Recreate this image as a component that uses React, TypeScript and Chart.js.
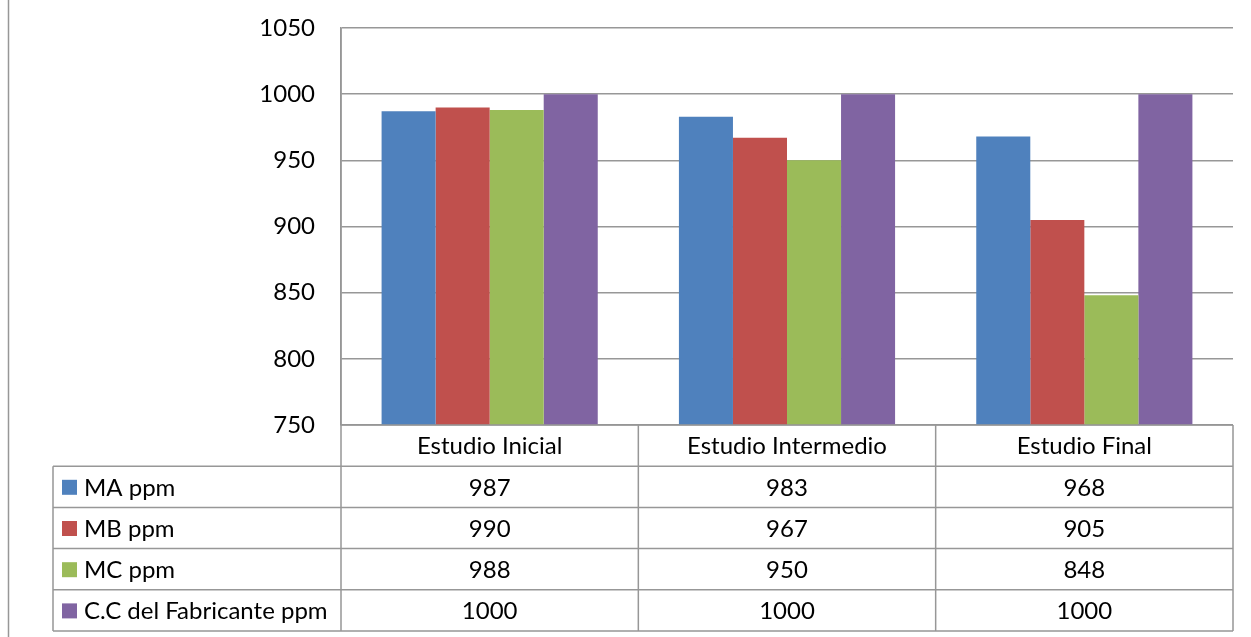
import React, { useEffect, useRef } from "react";
import { Chart, registerables } from "chart.js";

Chart.register(...registerables);

const categories = ["Estudio Inicial", "Estudio Intermedio", "Estudio Final"];
const seriesNames = ["MA ppm", "MB ppm", "MC ppm", "C.C del Fabricante ppm"];
const maValues = [987, 983, 968];
const mbValues = [990, 967, 905];
const mcValues = [988, 950, 848];
const ccValues = [1000, 1000, 1000];
const seriesColors = ["#4F81BD", "#C0504D", "#9BBB59", "#8064A2"];
const yMin = 750;
const yMax = 1050;
const yStep = 50;

const FONT = "Lato, 'Open Sans', sans-serif";
const FONT_SIZE = 24;
const LINE = "#979797";

const tablePlugin = {
  id: "dataTable",
  afterDraw(chart: any) {
    const { ctx, chartArea, data } = chart;
    const left = chartArea.left;
    const right = chartArea.right;
    const top = chartArea.bottom;
    const n = categories.length;
    const colW = (right - left) / n;
    const rowH = 41.2;
    const tableLeft = 53;
    const rows = data.datasets.length;
    const bottom = top + rowH * (rows + 1);

    ctx.save();
    ctx.strokeStyle = LINE;
    ctx.lineWidth = 1.5;

    // outer left border of chart
    ctx.beginPath();
    ctx.moveTo(8.5, 0);
    ctx.lineTo(8.5, chart.height);
    ctx.stroke();

    // horizontal lines
    ctx.beginPath();
    ctx.moveTo(left, top);
    ctx.lineTo(right, top);
    for (let r = 1; r <= rows + 1; r++) {
      const y = top + r * rowH;
      ctx.moveTo(tableLeft, y);
      ctx.lineTo(right, y);
    }
    // vertical lines
    ctx.moveTo(tableLeft, top + rowH);
    ctx.lineTo(tableLeft, bottom);
    for (let c = 0; c <= n; c++) {
      const x = left + c * colW;
      ctx.moveTo(x, c === 0 ? chartArea.top : top);
      ctx.lineTo(x, bottom);
    }
    ctx.stroke();

    ctx.fillStyle = "#000";
    ctx.font = `${FONT_SIZE}px ${FONT}`;
    ctx.textBaseline = "middle";
    ctx.textAlign = "center";
    for (let c = 0; c < n; c++) {
      const cx = left + (c + 0.5) * colW;
      ctx.fillText(data.labels[c], cx, top + rowH / 2 + 1);
      for (let r = 0; r < rows; r++) {
        const v = data.datasets[r].data[c];
        ctx.fillText(String(v), cx, top + (r + 1.5) * rowH + 1);
      }
    }
    ctx.textAlign = "left";
    for (let r = 0; r < rows; r++) {
      const cy = top + (r + 1.5) * rowH;
      ctx.fillStyle = data.datasets[r].backgroundColor;
      ctx.fillRect(62, cy - 7, 15, 15);
      ctx.fillStyle = "#000";
      ctx.fillText(data.datasets[r].label, 84, cy + 1);
    }
    ctx.restore();
  },
};

export default function App() {
  const ref = useRef<HTMLCanvasElement>(null);
  useEffect(() => {
    const seriesValues = [maValues, mbValues, mcValues, ccValues];
    const chart = new Chart(ref.current as HTMLCanvasElement, {
      type: "bar",
      data: {
        labels: categories,
        datasets: seriesNames.map((name, i) => ({
          label: name,
          data: seriesValues[i],
          backgroundColor: seriesColors[i],
          borderWidth: 0,
          barPercentage: 1,
          categoryPercentage: 0.727,
        })),
      },
      options: {
        animation: false,
        responsive: false,
        maintainAspectRatio: false,
        layout: { padding: { left: 0, right: 18, top: 28, bottom: 212 } },
        plugins: { legend: { display: false }, tooltip: { enabled: false } },
        scales: {
          x: {
            display: true,
            ticks: { display: false },
            grid: { display: false, drawTicks: false },
            border: { display: false },
          },
          y: {
            min: yMin,
            max: yMax,
            ticks: {
              stepSize: yStep,
              color: "#000",
              font: { family: FONT, size: FONT_SIZE },
              padding: 26,
              callback: (v: any) => String(v),
            },
            grid: { color: LINE, lineWidth: 1.5, drawTicks: false },
            border: { display: true, color: LINE, width: 1.5 },
            afterFit: (scale: any) => {
              scale.width = 341;
              scale.paddingTop = 0;
              scale.paddingBottom = 0;
            },
          },
        },
      },
      plugins: [tablePlugin],
    });
    return () => chart.destroy();
  }, []);
  return (
    <div style={{ position: "fixed", left: 0, top: 0, width: 1251, height: 637, background: "#fff" }}>
      <canvas ref={ref} width={1251} height={637} />
    </div>
  );
}
